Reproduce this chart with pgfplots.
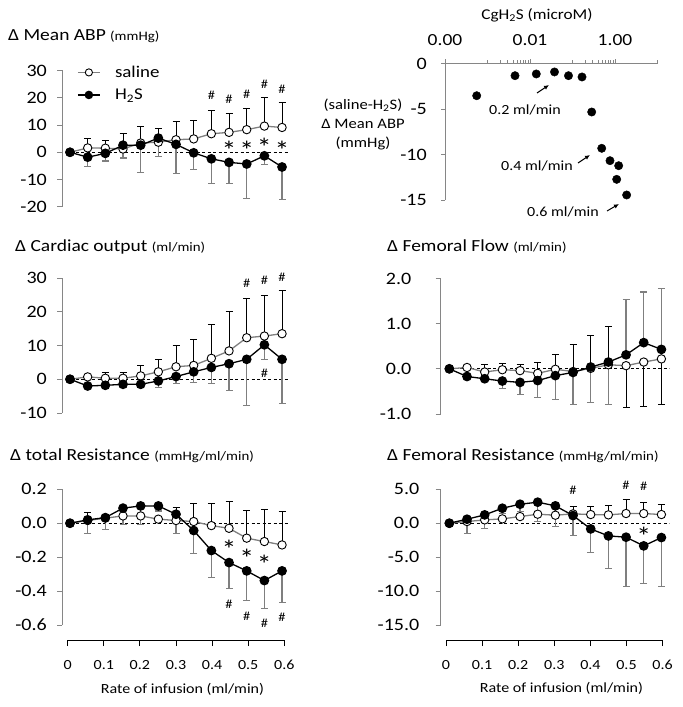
\documentclass[border=0pt]{standalone}
\usepackage{pgfplots}
\pgfplotsset{compat=1.18}
\usepackage{pgfplotstable}
\usepackage{fontspec}
\setmainfont{Carlito}[FakeStretch=1.15]
\usetikzlibrary{arrows.meta}
\definecolor{axgray}{HTML}{868686}
\definecolor{lgray}{HTML}{7F7F7F}
\newcommand\fs[1]{\fontsize{#1}{#1}\selectfont}
\tikzset{zl/.style={black, line width=0.7bp, dash pattern=on 3bp off 2.5bp}}
\newcommand\hashmark[2]{\node[font=\fs{12.5}] at (axis cs:#1,#2) {\#};}
\newcommand\sigmark[2]{\node[font=\fs{26}, anchor=base, inner sep=0pt, yshift=-13bp] at (axis cs:#1,#2) {*};}

% columns: i  saline  sal+  sal-  H2S  h+  h-
\pgfplotstableread{
i s sp sm h hp hm
0 0 0 0 0 0 0
1 1.6 3.5 0 -1.8 0 3.3
2 1.5 2.8 0 -0.4 0 2.8
3 1.2 5.6 0 2.6 0 4.7
4 3.4 6.1 0 2.6 0 9.9
5 3.7 5.2 0 5.2 0 6.7
6 4.6 6.7 0 2.9 0 10.6
7 4.9 6.7 0 -0.2 0 6.1
8 6.8 8.6 0 -2.4 0 8.9
9 7.3 7.1 0 -3.7 0 7.6
10 8.3 7.8 0 -4.3 0 12.5
11 9.6 10.5 0 -1.3 0 3.3
12 9.1 9.2 0 -5.4 0 11.9
}\abp
\pgfplotstableread{
i s sp sm h hp hm
0 0 0 0 0 0 0
1 0.7 0.6 0 -2.0 0 0.7
2 0.3 1.6 0 -1.8 0 0.7
3 0.3 1.6 0 -1.5 0 0.8
4 1.0 3.1 0 -1.5 0 1.0
5 2.2 3.7 0 -0.5 0 2.0
6 3.7 6.4 0 0.8 0 2.1
7 4.1 7.8 0 2.2 0 3.2
8 6.2 10.1 0 3.5 0 4.8
9 8.4 11.8 0 4.6 0 7.9
10 12.3 11.7 0 5.9 0 13.6
11 12.8 12.0 0 10.2 0 4.3
12 13.5 12.7 0 5.9 0 13.1
}\cardiac
\pgfplotstableread{
i s sp sm h hp hm
0 0 0 0 0 0 0
1 0.03 0.05 0 -0.17 0 0.05
2 -0.07 0.16 0 -0.22 0 0.05
3 -0.02 0.15 0 -0.27 0 0.16
4 -0.04 0.14 0 -0.30 0 0.26
5 -0.10 0.25 0 -0.26 0 0.38
6 -0.01 0.34 0 -0.15 0 0.52
7 -0.06 0.61 0 -0.08 0 0.70
8 0.01 0.74 0 0.04 0 0.79
9 0.09 0.85 0 0.15 0 0.93
10 0.07 0 0.92 0.31 1.22 0
11 0.15 0 0.99 0.58 1.12 0
12 0.22 0 1.00 0.43 1.34 0
}\femflow
\pgfplotstableread{
i s sp sm h hp hm
0 0 0 0 0 0 0
1 0.016 0.049 0 0.02 0 0.08
2 0.03 0 0 0.033 0 0.068
3 0.043 0 0 0.089 0 0.099
4 0.043 0 0 0.102 0 0.112
5 0.024 0 0 0.102 0 0.03
6 0.016 0.078 0 0.053 0 0.116
7 0.01 0.104 0 -0.043 0 0.138
8 -0.014 0.128 0 -0.161 0 0.158
9 -0.03 0.158 0 -0.232 0 0.151
10 -0.088 0.163 0 -0.281 0 0.175
11 -0.108 0.189 0 -0.338 0 0.167
12 -0.128 0.197 0 -0.281 0 0.187
}\totres
\pgfplotstableread{
i s sp sm h hp hm
0 0 0 0 0 0 0
1 0.25 0 0 0.59 0 2.06
2 0.49 0 0 1.23 0 2.07
3 0.64 0 0 2.21 0 0.8
4 0.98 0 0 2.80 0 1.08
5 1.33 0 0 3.10 0 2.85
6 1.18 0 0 2.56 0 3.05
7 1.38 1.08 0 1.13 0 2.95
8 1.28 1.18 0 -0.84 0 3.49
9 1.23 1.37 0 -1.87 0 4.77
10 1.43 2.01 0 -2.06 0 7.28
11 1.43 1.62 0 -3.34 0 5.51
12 1.28 1.52 0 -2.11 0 7.23
}\femres
\pgfplotstableread{
c d
5.57e-4 -3.54
4.44e-3 -1.34
0.01406 -1.15
0.0377 -0.93
0.0805 -1.34
0.1675 -1.48
0.283 -5.33
0.487 -9.32
0.762 -10.68
1.22 -11.23
1.096 -12.73
1.88 -14.45
}\conc

\pgfplotsset{
  panel/.style={scale only axis, clip=false, anchor=south west,
    axis x line=none, axis y line*=left,
    axis line style={axgray, line width=0.9bp},
    ytick style={axgray, line width=0.9bp},
    tick align=outside, major tick length=5bp,
    yticklabel style={font=\fs{17.5}, inner sep=0pt, anchor=east, xshift=-10bp},
  },
  lpanel/.style={panel, width=230.6bp, xmin=-0.45, xmax=12.6},
  rpanel/.style={panel, width=231.5bp, xmin=-0.5, xmax=12.6},
  salerr/.style={draw=none, mark=none, forget plot,
    error bars/.cd, y dir=both, y explicit,
    error bar style={black, line width=0.8bp},
    error mark options={rotate=90, black, mark size=3.5bp, line width=0.8bp}},
  h2serr/.style={draw=none, mark=none, forget plot,
    error bars/.cd, y dir=both, y explicit,
    error bar style={lgray, line width=1.3bp},
    error mark options={rotate=90, lgray, mark size=3.5bp, line width=1.1bp}},
  sal/.style={color=lgray, line width=1.3bp, mark=*, mark size=4.2bp,
    mark options={fill=white, draw=black, line width=0.9bp}},
  hs/.style={color=black, line width=1.3bp, mark=*, mark size=4.2bp,
    mark options={fill=black, draw=black}},
  xaxis/.style={scale only axis, anchor=south west, width=216.6bp, height=1bp,
    xmin=0, xmax=0.6, ymin=0, ymax=1, axis y line=none, axis x line*=bottom,
    axis line style={black, line width=0.9bp},
    xtick={0,0.1,0.2,0.3,0.4,0.5,0.6}, xticklabels={0,0.1,0.2,0.3,0.4,0.5,0.6},
    xtick style={black, line width=0.9bp}, tick align=outside, major tick length=6bp,
    xticklabel style={font=\fs{14}, inner sep=0pt, anchor=north, yshift=-14bp}},
}
\newcommand\series[1]{%
  \addplot[salerr] table[x=i, y=s, y error plus=sp, y error minus=sm] {#1};
  \addplot[h2serr] table[x=i, y=h, y error plus=hp, y error minus=hm] {#1};
  \addplot[sal, forget plot] table[x=i, y=s] {#1};
  \addplot[hs, forget plot] table[x=i, y=h] {#1};
}

\begin{document}
\begin{tikzpicture}
\useasboundingbox (0bp,0bp) rectangle (683bp,707bp);

% ---------- Panel 1: Mean ABP
\begin{axis}[lpanel, at={(62.05bp,500.2bp)}, height=136.3bp, ymin=-20, ymax=30,
  ytick={-20,-10,0,10,20,30}, yticklabels={-20,-10,0,10,20,30},
  legend style={draw=none, fill=none, at={(0.052,1.053)}, anchor=north west,
    font=\fs{16.5}, row sep=9bp, column sep=14bp, nodes={inner sep=0.5bp}},
  legend cell align=left,
  legend image code/.code={\draw[mark repeat=2, mark phase=2, mark size=3.6bp, #1] plot coordinates {(0bp,0bp) (11bp,0bp) (22bp,0bp)};}]
\draw[zl] (axis cs:0,0) -- (axis cs:12.45,0);
\series{\abp}
\addlegendimage{sal, mark size=3.6bp}\addlegendentry{saline}
\addlegendimage{hs, mark size=3.6bp}\addlegendentry{H\textsubscript{2}S}
\hashmark{8}{20.9}\hashmark{9}{19.5}\hashmark{10}{21.3}\hashmark{11}{25.1}\hashmark{12}{23.2}
\sigmark{9}{2.1}\sigmark{10}{2.1}\sigmark{11}{3.4}\sigmark{12}{2.1}
\end{axis}

% ---------- Panel 2: concentration
\begin{axis}[scale only axis, clip=false, anchor=south west, at={(445bp,507bp)},
  width=212.5bp, height=136.5bp, xmode=log, xmin=1e-4, xmax=10, ymin=-15, ymax=0,
  axis x line*=top, axis y line*=left,
  axis line style={axgray, line width=0.9bp},
  tick style={axgray, line width=0.9bp}, tick align=outside,
  major tick length=4bp, minor tick length=3bp,
  xtick={1e-4,1e-2,1}, xticklabels={0.00,0.01,1.00},
  minor xtick={0.001,0.002,0.003,0.004,0.005,0.006,0.007,0.008,0.009,0.1,0.2,0.3,0.4,0.5,0.6,0.7,0.8,0.9,10},
  xticklabel style={font=\fs{17}, inner sep=0pt, anchor=south, yshift=14bp},
  ytick={-15,-10,-5,0}, yticklabels={-15,-10,-5,0},
  yticklabel style={font=\fs{17.5}, inner sep=0pt, anchor=east, xshift=-14bp}]
\addplot[only marks, mark=*, mark size=4.2bp, black] table[x=c, y=d] {\conc};
\end{axis}
\node[font=\fs{15}] at (537bp,692bp) {CgH\textsubscript{2}S (microM)};
\node[font=\fs{14.5}, align=center] at (363bp,582.5bp) {(saline-H\textsubscript{2}S)\\[4.5bp]Δ Mean ABP\\[4.5bp](mmHg)};
\node[font=\fs{14}] at (525bp,597bp) {0.2 ml/min};
\node[font=\fs{14}] at (537bp,541bp) {0.4 ml/min};
\node[font=\fs{14}] at (563bp,495bp) {0.6 ml/min};
\draw[-{Latex[length=5bp,width=4.5bp]}, line width=1bp] (537bp,614bp) -- (549bp,622bp);
\draw[-{Latex[length=5bp,width=4.5bp]}, line width=1bp] (578bp,544bp) -- (590bp,552bp);
\draw[-{Latex[length=5bp,width=4.5bp]}, line width=1bp] (607bp,496bp) -- (619bp,503bp);

% ---------- Panel 3: Cardiac output
\begin{axis}[lpanel, at={(62.05bp,294bp)}, height=135bp, ymin=-10, ymax=30,
  ytick={-10,0,10,20,30}, yticklabels={-10,0,10,20,30}]
\draw[zl] (axis cs:0,0) -- (axis cs:12.45,0);
\series{\cardiac}
\hashmark{10}{28.3}\hashmark{11}{29.3}\hashmark{12}{30.1}\hashmark{11}{1.7}
\end{axis}

% ---------- Panel 4: Femoral flow
\begin{axis}[rpanel, at={(440.5bp,293bp)}, height=135.5bp, ymin=-1, ymax=2,
  ytick={-1,0,1,2}, yticklabels={-1.0,0.0,1.0,2.0},
  yticklabel style={xshift=-14bp}]
\draw[zl] (axis cs:0,0) -- (axis cs:12.45,0);
\series{\femflow}
\end{axis}

% ---------- Panel 5: total resistance
\begin{axis}[lpanel, at={(62.05bp,82bp)}, height=135.7bp, ymin=-0.6, ymax=0.2,
  ytick={-0.6,-0.4,-0.2,0,0.2}, yticklabels={-0.6,-0.4,-0.2,0.0,0.2}]
\draw[zl] (axis cs:0,0) -- (axis cs:12.45,0);
\series{\totres}
\hashmark{9}{-0.476}\hashmark{10}{-0.547}\hashmark{11}{-0.59}\hashmark{12}{-0.557}
\sigmark{9}{-0.134}\sigmark{10}{-0.187}\sigmark{11}{-0.222}
\end{axis}
\begin{axis}[xaxis, at={(67.7bp,67bp)}]
\end{axis}

% ---------- Panel 6: femoral resistance
\begin{axis}[rpanel, at={(440.5bp,82bp)}, height=135.7bp, ymin=-15, ymax=5,
  ytick={-15,-10,-5,0,5}, yticklabels={-15.0,-10.0,-5.0,0.0,5.0},
  yticklabel style={xshift=-6bp}]
\draw[zl] (axis cs:0,0) -- (axis cs:12.45,0);
\series{\femres}
\hashmark{7}{4.9}\hashmark{10}{5.65}\hashmark{11}{5.4}
\sigmark{11}{-1.38}
\end{axis}
\begin{axis}[xaxis, at={(446bp,67bp)}]
\end{axis}

% ---------- titles and labels
\node[anchor=base west, inner sep=0pt] at (8bp,666.3bp) {\fs{17}Δ Mean ABP \fs{13}(mmHg)};
\node[anchor=base west, inner sep=0pt] at (15bp,455.3bp) {\fs{17}Δ Cardiac output \fs{13}(ml/min)};
\node[anchor=base west, inner sep=0pt] at (387bp,455.3bp) {\fs{17}Δ Femoral Flow \fs{13}(ml/min)};
\node[anchor=base west, inner sep=0pt] at (10bp,246.3bp) {\fs{17}Δ total Resistance \fs{13}(mmHg/ml/min)};
\node[anchor=base west, inner sep=0pt] at (387bp,246.3bp) {\fs{17}Δ Femoral Resistance \fs{13}(mmHg/ml/min)};
\node[font=\fs{14}] at (182.5bp,18bp) {Rate of infusion (ml/min)};
\node[font=\fs{14}] at (561.5bp,19bp) {Rate of infusion (ml/min)};
\end{tikzpicture}
\end{document}
